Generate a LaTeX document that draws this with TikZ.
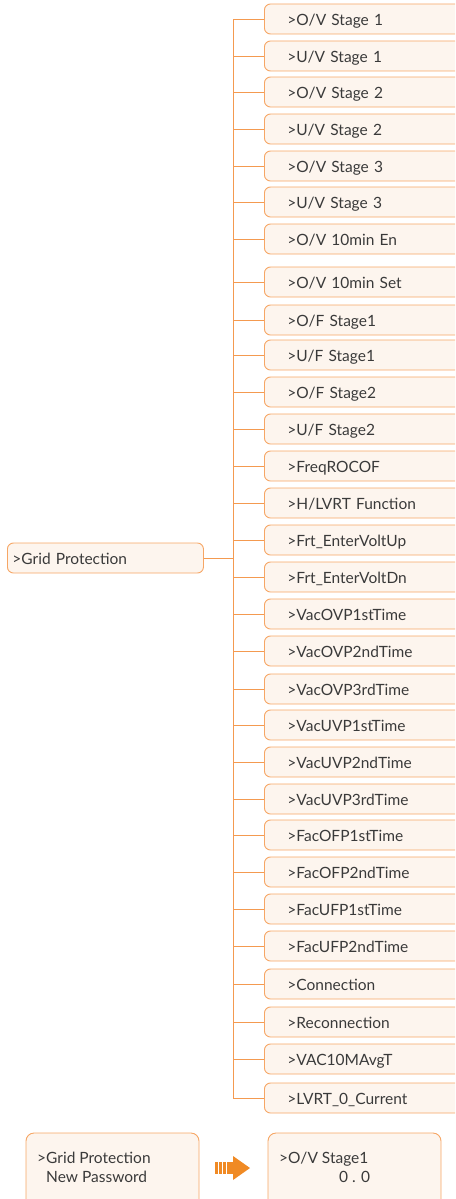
\documentclass[tikz,border=0pt]{standalone}
\usepackage{fontspec}
\setmainfont{Lato}
\definecolor{boxline}{HTML}{F6A665}
\definecolor{boxfill}{HTML}{FDF5EE}
\definecolor{conn}{HTML}{F49A50}
\definecolor{arrowc}{HTML}{F08A24}
\definecolor{txt}{HTML}{3A3A3A}
\begin{document}
\begin{tikzpicture}[x=1pt,y=-1pt,
  item/.style={draw=boxline, fill=boxfill, line width=0.9pt, rounded corners=6pt,
    anchor=west, text width=160pt, align=left, inner xsep=23pt, minimum height=30pt,
    text height=15pt, text depth=2pt,
    font=\fontsize{15.5}{17}\selectfont, text=txt},
  leaf/.style={draw=conn, line width=0.9pt},
  bigbox/.style={draw=boxline, fill=boxfill, line width=0.9pt, rounded corners=8pt},
  btxt/.style={anchor=base west, inner sep=0pt, font=\fontsize{15.5}{17}\selectfont, text=txt}]
\useasboundingbox (0,0) rectangle (455,1199);
\clip (0,0) rectangle (455,1199);
\node[item, text width=186pt, inner xsep=5pt] (gp) at (7,558) {>Grid Protection};
\coordinate (tr) at (233,558);
\foreach \n/\y/\t in {1/19/{>O/V Stage 1},2/56/{>U/V Stage 1},3/92/{>O/V Stage 2},4/129/{>U/V Stage 2},
  5/166/{>O/V Stage 3},6/202/{>U/V Stage 3},7/239/{>O/V 10min En},8/282/{>O/V 10min Set},
  9/320/{>O/F Stage1},10/355/{>U/F Stage1},11/392/{>O/F Stage2},12/429/{>U/F Stage2},
  13/466/{>FreqROCOF},14/503/{>H/LVRT Function},15/540/{>Frt\_EnterVoltUp},16/577/{>Frt\_EnterVoltDn},
  17/614/{>VacOVP1stTime},18/651/{>VacOVP2ndTime},19/689/{>VacOVP3rdTime},20/725/{>VacUVP1stTime},
  21/762/{>VacUVP2ndTime},22/799/{>VacUVP3rdTime},23/835/{>FacOFP1stTime},24/872/{>FacOFP2ndTime},
  25/909/{>FacUFP1stTime},26/946/{>FacUFP2ndTime},27/984/{>Connection},28/1022/{>Reconnection},
  29/1059/{>VAC10MAvgT},30/1098/{>LVRT\_0\_Current}}{
  \draw[leaf] (tr) |- (264,\y);
  \node[item] (i\n) at (264,\y) {\t};
}
\draw[leaf] (gp.east) -- (tr);
% bottom
\draw[bigbox] (26,1133) rectangle (199,1210);
\draw[bigbox] (268,1133) rectangle (441,1210);
\node[btxt] (l1) at (37,1163) {>Grid Protection};
\node[btxt] (l2) at (46,1182) {New Password};
\node[btxt] (r1) at (279,1163) {>O/V Stage1};
\node[btxt] (r2) at (339,1182) {0 . 0};
\foreach \x in {215,219,223} \fill[arrowc] (\x,1162) rectangle ++(2.5,12);
\fill[arrowc] (227,1162) rectangle (234,1174);
\fill[arrowc] (233,1156) -- (250,1168) -- (233,1180) -- cycle;
\end{tikzpicture}
\end{document}
